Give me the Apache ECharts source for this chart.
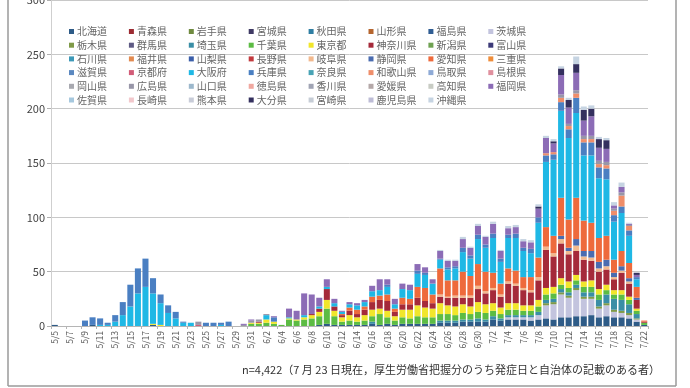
<!DOCTYPE html>
<html><head><meta charset="utf-8">
<script src="https://cdn.jsdelivr.net/npm/echarts@6/dist/echarts.min.js"></script>
<style>html,body{margin:0;padding:0;background:#fff}#c{width:690px;height:388px}</style>
</head><body><div id="c"></div>
<script>
const dates = ['5/5','5/6','5/7','5/8','5/9','5/10','5/11','5/12','5/13','5/14','5/15','5/16','5/17','5/18','5/19','5/20','5/21','5/22','5/23','5/24','5/25','5/26','5/27','5/28','5/29','5/30','5/31',
'6/1','6/2','6/3','6/4','6/5','6/6','6/7','6/8','6/9','6/10','6/11','6/12','6/13','6/14','6/15','6/16','6/17','6/18','6/19','6/20','6/21','6/22','6/23','6/24','6/25','6/26','6/27','6/28','6/29','6/30',
'7/1','7/2','7/3','7/4','7/5','7/6','7/7','7/8','7/9','7/10','7/11','7/12','7/13','7/14','7/15','7/16','7/17','7/18','7/19','7/20','7/21','7/22'];

const prefs = ['北海道','青森県','岩手県','宮城県','秋田県','山形県','福島県','茨城県',
'栃木県','群馬県','埼玉県','千葉県','東京都','神奈川県','新潟県','富山県',
'石川県','福井県','山梨県','長野県','岐阜県','静岡県','愛知県','三重県',
'滋賀県','京都府','大阪府','兵庫県','奈良県','和歌山県','鳥取県','島根県',
'岡山県','広島県','山口県','徳島県','香川県','愛媛県','高知県','福岡県',
'佐賀県','長崎県','熊本県','大分県','宮崎県','鹿児島県','沖縄県'];

const prefColors = ['#2e5b87','#9c2b32','#6f8a3f','#3f3a64','#2f7ea3','#b5652e','#2f5d93','#c3c4de',
'#7f9a48','#5e5a84','#3a8ea6','#5cbc44','#f1e62b','#a52a3a','#6fa252','#3c3a78',
'#3d99b8','#e28a50','#3b5ea9','#c23a3e','#f2b98e','#4a6cb0','#ee6a3c','#ef8d3a',
'#5b88c0','#d25c78','#1fb8e5','#4a7fc2','#48a3b5','#ef8e6a','#8eaad6','#e0909e',
'#a8a9b0','#9896a8','#9cb8cc','#f0a8a0','#a0a4b4','#b4a8a8','#c8ccc4','#8c6cb6',
'#a6c8de','#f2c8cc','#c8ccd8','#34305e','#c6cdd6','#bdbcd6','#c6d4e2'];

const hokkaido = [1,0,0,0,0,1,0,0,0,0, 0,0,0,1,0,0,0,0,0,0, 0,0,0,0,0,0,0,0,0,0, 0,0,0,0,0,1,2,1,1,1,
 1,1,2,1,2,1,2,2,2,2, 2,3,3,3,4,4,4,4,6,5, 6,6,6,5,6,7,6,8,8,9, 9,10,8,9,8,8,7,4,1];
const ibaraki = [0,0,0,0,0,0,0,0,0,0, 0,0,0,0,0,0,0,0,0,0, 0,0,0,0,0,0,0,0,0,0, 0,0,0,0,0,0,0,0,0,0,
 0,0,0,0,0,0,0,0,0,0, 0,0,0,0,0,0,0,0,0,0, 2,2,2,3,4,12,14,21,18,24, 16,15,8,10,5,4,3,2,0];
const tochigi = [0,0,0,0,0,0,0,0,0,0, 0,0,0,0,0,0,0,0,0,0, 0,0,0,0,0,0,0,0,0,0, 0,0,0,0,0,0,0,0,0,0,
 0,0,0,0,0,0,0,0,0,0, 0,0,0,0,0,0,0,0,0,0, 0,0,0,0,0,2,2,2,2,2, 2,2,2,2,2,2,2,1,0];
const saitama = [0,0,0,0,0,0,0,0,0,0, 0,0,0,0,0,0,0,0,0,0, 0,0,0,0,0,0,0,0,0,0, 0,0,0,0,0,0,0,0,0,0,
 0,0,2,0,0,0,0,0,0,0, 0,2,2,2,2,2,3,2,3,2, 2,2,2,2,3,3,3,3,3,3, 4,4,6,8,10,10,8,4,0];
const chiba = [0,0,0,0,0,0,0,0,0,0, 0,0,0,0,0,0,0,0,0,0, 0,0,0,0,0,0,2,2,3,2, 1,6,5,6,7,8,14,8,3,4,
 3,4,5,10,6,4,6,5,7,6, 6,6,6,5,6,5,6,6,5,4, 5,5,4,4,5,5,5,4,4,4, 5,5,5,4,4,5,4,3,2];
const tokyo = [0,0,0,0,0,0,0,0,0,0, 0,0,0,1,1,0,0,0,0,0, 0,0,0,0,0,0,1,1,3,2, 0,1,1,2,3,4,8,5,4,5,
 4,5,6,5,6,4,7,8,10,9, 8,10,8,8,8,7,9,8,7,6, 6,6,5,5,6,6,6,6,6,5, 5,6,5,5,4,4,3,2,0];
const kanagawa = [0,0,0,0,0,0,0,0,0,0, 0,0,0,0,0,0,0,0,0,0, 0,0,0,0,0,0,0,1,0,0, 0,0,0,0,1,3,10,4,2,4,
 3,5,7,8,9,4,5,5,7,6, 5,6,7,8,6,8,12,10,12,10, 18,16,14,12,18,35,28,32,25,22, 20,18,16,14,10,16,12,8,1];
const gifu = [0,0,0,0,0,0,0,0,0,0, 0,0,0,0,0,0,0,0,0,0, 0,0,0,0,0,0,0,0,0,0, 0,0,0,0,0,0,0,0,0,0,
 0,0,0,0,0,0,0,0,0,0, 0,2,1,2,2,2,3,2,2,2, 2,2,2,2,3,3,3,4,3,5, 3,3,3,3,2,2,2,0,0];
const shizuoka = [0,0,0,0,0,0,0,0,0,0, 0,0,0,0,0,0,0,0,0,0, 0,0,0,0,0,0,0,0,0,0, 0,0,0,0,0,0,0,0,0,0,
 0,0,0,0,0,0,0,0,0,0, 0,0,0,0,0,0,0,0,0,0, 0,0,0,0,0,0,0,3,3,6, 5,6,6,6,4,4,3,2,0];
const aichi = [0,0,0,0,0,0,0,0,0,0, 0,0,0,0,0,0,0,0,0,0, 0,0,0,0,0,0,0,0,0,0, 0,0,0,0,0,0,0,0,1,3,
 4,3,5,4,6,3,6,5,10,12, 8,24,15,14,22,18,20,18,14,10, 12,12,10,12,18,18,16,35,26,38, 28,26,22,22,12,14,14,10,1];
const kyoto = [0,0,0,0,0,0,0,0,0,0, 0,0,0,0,0,0,0,0,0,1, 0,0,0,0,0,0,0,0,0,0, 0,0,0,0,0,0,0,0,0,0,
 0,0,0,0,0,0,0,0,0,0, 0,0,0,0,0,0,0,0,0,0, 0,0,0,0,0,0,0,0,0,0, 0,0,0,0,0,0,0,0,0];
const osaka = [0,0,0,0,0,0,1,1,4,10, 18,30,36,28,20,12,7,3,3,0, 0,0,1,0,0,0,0,0,4,0, 0,1,0,2,0,2,2,3,2,3,
 4,4,5,5,7,4,8,8,12,12, 10,8,10,11,18,16,23,22,32,20, 28,30,24,22,32,60,70,80,75,78, 60,62,55,52,35,35,25,7,0];
const hyogo = [0,0,0,0,5,7,6,2,6,12, 20,23,26,14,8,7,6,1,0,0, 3,3,2,4,0,0,0,0,0,4, 0,0,0,0,0,0,0,0,0,0,
 0,0,0,0,2,0,0,0,3,2, 0,1,2,2,4,3,4,3,4,3, 3,4,3,4,5,6,5,8,8,14, 12,12,10,10,6,6,5,2,0];
const wakayama = [0,0,0,0,0,0,0,0,0,0, 0,0,0,0,0,0,0,0,0,0, 0,0,0,0,0,0,0,0,0,0, 0,0,0,0,0,0,0,0,0,0,
 0,0,0,0,0,0,0,0,0,0, 0,0,0,0,0,0,0,0,0,0, 0,0,0,0,0,2,2,4,3,4, 3,3,3,3,4,10,4,0,0];
const hiroshima = [0,0,0,0,0,0,0,0,0,0, 0,0,0,0,0,0,0,0,0,3, 0,0,0,0,0,1,2,2,1,0, 0,0,0,0,0,0,0,0,0,0,
 0,0,0,0,0,0,0,0,0,0, 0,0,0,0,0,0,0,0,0,0, 0,0,0,0,0,0,0,3,2,3, 3,3,3,3,2,3,1,0,0];
const fukuoka = [0,0,0,0,0,0,0,0,0,0, 0,0,0,0,0,0,0,0,0,0, 0,0,0,0,0,1,1,0,0,1, 0,8,8,20,18,8,7,4,1,2,
 2,2,5,10,5,5,5,5,6,5, 4,7,6,5,8,7,8,7,9,7, 6,6,6,6,8,14,8,18,15,16, 14,18,12,12,3,5,1,2,0];
const oita = [0,0,0,0,0,0,0,0,0,0, 0,0,0,0,0,0,0,0,0,0, 0,0,0,0,0,0,0,0,0,0, 0,0,0,0,0,0,0,0,0,0,
 0,0,0,0,0,0,0,0,0,0, 0,0,0,0,0,0,0,0,0,0, 0,0,0,0,2,0,2,6,7,8, 10,7,8,8,0,0,0,2,0];
const okinawa = [0,0,0,0,0,0,0,0,0,0, 0,0,0,0,0,0,0,0,0,0, 0,0,0,0,0,0,0,0,0,0, 0,0,0,0,0,0,0,0,0,0,
 0,0,0,0,0,0,0,0,0,0, 0,1,1,1,2,1,2,1,2,1, 2,2,2,2,2,2,2,2,2,7, 3,3,2,2,3,4,1,0,0];

const yTicks = [0, 50, 100, 150, 200, 250, 300];
const note = 'n=4,422（7 月 23 日現在，厚生労働省把握分のうち発症日と自治体の記載のある者）';

const valuesByPref = {
  '北海道': hokkaido, '茨城県': ibaraki, '栃木県': tochigi, '埼玉県': saitama, '千葉県': chiba,
  '東京都': tokyo, '神奈川県': kanagawa, '岐阜県': gifu, '静岡県': shizuoka, '愛知県': aichi,
  '京都府': kyoto, '大阪府': osaka, '兵庫県': hyogo, '和歌山県': wakayama, '広島県': hiroshima,
  '福岡県': fukuoka, '大分県': oita, '沖縄県': okinawa
};

const FONT = '"Noto Sans CJK JP", "Noto Sans", sans-serif';
const series = prefs.map((p, k) => ({
  name: p, type: 'bar', stack: 'total', barCategoryGap: '20%',
  itemStyle: { color: prefColors[k] },
  data: valuesByPref[p] || []
}));

const legends = [];
for (let c = 0; c < 8; c++) {
  const d = [];
  for (let r = c; r < prefs.length; r += 8) d.push(prefs[r]);
  legends.push({
    orient: 'vertical', left: 69 + 59.9 * c, top: 26.5, padding: 0,
    itemWidth: 5, itemHeight: 5, itemGap: 3.7, icon: 'rect', selectedMode: false,
    data: d,
    textStyle: { fontSize: 10, lineHeight: 10, color: '#666', fontFamily: FONT, padding: [0, 0, 0, -2] }
  });
}

const chart = echarts.init(document.getElementById('c'), null, { renderer: 'canvas' });
chart.setOption({
  animation: false,
  backgroundColor: '#fff',
  textStyle: { fontFamily: FONT },
  legend: legends,
  grid: { left: 51, right: 42, top: 0, bottom: 62, containLabel: false, outerBoundsMode: 'none' },
  xAxis: {
    type: 'category', data: dates,
    axisLine: { lineStyle: { color: '#b5b5b5', width: 1 } },
    axisTick: { show: true, length: 3, lineStyle: { color: '#b5b5b5' } },
    axisLabel: { interval: 1, rotate: 90, fontSize: 8.5, color: '#555', margin: 5, fontFamily: FONT }
  },
  yAxis: {
    type: 'value', min: yTicks[0], max: yTicks[yTicks.length - 1], interval: 50,
    axisLine: { show: true, lineStyle: { color: '#cfcfcf' } },
    axisTick: { show: true, length: 4, lineStyle: { color: '#b0b0b0' } },
    axisLabel: { fontSize: 11, color: '#444', margin: 6, fontFamily: FONT },
    splitLine: { lineStyle: { color: '#c8c8c8', width: 1 } }
  },
  graphic: [
    { type: 'line', shape: { x1: 8, y1: -5, x2: 8, y2: 386 }, style: { stroke: '#9a9a9a', lineWidth: 1.5 } },
    { type: 'line', shape: { x1: 8, y1: 386, x2: 676, y2: 386 }, style: { stroke: '#9a9a9a', lineWidth: 1.5 } },
    { type: 'line', shape: { x1: 676, y1: -5, x2: 676, y2: 386 }, style: { stroke: '#9a9a9a', lineWidth: 1.5 } },
    { type: 'text', right: 30, top: 364, style: { text: note, fontSize: 11, fill: '#333', fontFamily: FONT } }
  ],
  series: series
});
</script>
</body></html>
